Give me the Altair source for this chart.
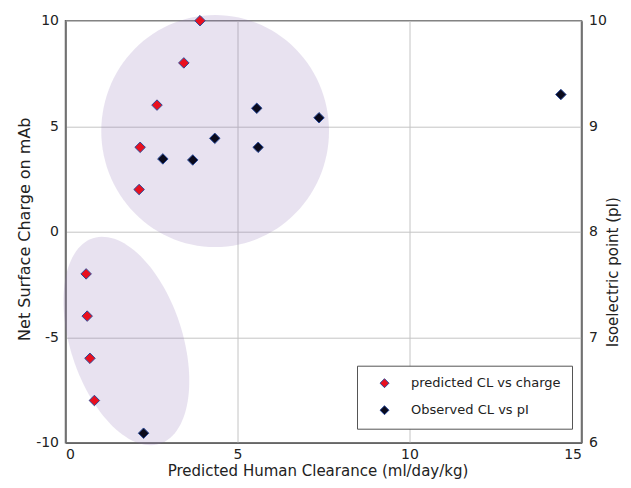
import altair as alt
import numpy as np
import pandas as pd

# ---- data ----
pred_cl = [3.91, 3.44, 2.66, 2.17, 2.14, 0.60, 0.63, 0.71, 0.84]
pred_charge = [10, 8, 6, 4, 2, -2, -4, -6, -8]

obs_cl = [5.56, 7.37, 4.34, 5.60, 2.83, 3.70, 14.40, 2.27]
obs_pi = [9.17, 9.08, 8.885, 8.80, 8.69, 8.68, 9.30, 6.09]

series_names = ["predicted CL vs charge", "Observed CL vs pI"]
series_colors = ["#e8101f", "#0a0a1c"]

# ellipse groupings (centre and two conjugate semi-axis vectors, data units)
ell_names = ["upper", "lower"]
ell_centre = [(4.35, 4.77), (1.77, -5.18)]
ell_vec_a = [(0.0, 5.5), (0.97, -4.87)]
ell_vec_b = [(3.31, 0.0), (1.55, 0.82)]

x_ticks = [0, 5, 10, 15]
y_ticks = [-10, -5, 0, 5, 10]
pi_ticks = [6, 7, 8, 9, 10]

# ---- tables ----
pred_df = pd.DataFrame({"cl": pred_cl, "v": pred_charge, "series": series_names[0]})
obs_df = pd.DataFrame({"cl": obs_cl, "v": obs_pi, "series": series_names[1]})

rows = []
t = np.linspace(0, 2 * np.pi, 121)
for name, c, a, b in zip(ell_names, ell_centre, ell_vec_a, ell_vec_b):
    for i, tt in enumerate(t):
        rows.append({
            "ell": name,
            "i": i,
            "cl": c[0] + np.cos(tt) * a[0] + np.sin(tt) * b[0],
            "v": c[1] + np.cos(tt) * a[1] + np.sin(tt) * b[1],
        })
ell_df = pd.DataFrame(rows)

FONT = "DejaVu Sans"
TXT = "#222222"
GRID = "#c4c4c4"
FRAME = "#666666"

xscale = alt.Scale(domain=[0, 15], nice=False, zero=False)
yscale = alt.Scale(domain=[-10, 10], nice=False, zero=False)
piscale = alt.Scale(domain=[6, 10], nice=False, zero=False)

color = alt.Color(
    "series:N",
    scale=alt.Scale(domain=series_names, range=series_colors),
    legend=alt.Legend(
        title=None,
        orient="none",
        legendX=291.5,
        legendY=345,
        strokeColor="#555555",
        fillColor="white",
        padding=11,
        symbolOffset=10,
        symbolType="diamond",
        symbolSize=80,
        symbolStrokeColor="#2a4a9a",
        symbolStrokeWidth=1,
        labelFont=FONT,
        labelFontSize=13,
        labelColor=TXT,
        labelOffset=20,
        rowPadding=13,
    ),
)

x_enc = alt.X(
    "cl:Q",
    scale=xscale,
    axis=alt.Axis(
        values=x_ticks,
        title="Predicted Human Clearance (ml/day/kg)",
        titleFontSize=15,
        titleY=33,
        titleX=252,
        titleAlign="center",
        titleBaseline="alphabetic",
        labelPadding=5,
        grid=True,
    ),
)

y_enc = alt.Y(
    "v:Q",
    scale=yscale,
    axis=alt.Axis(
        values=y_ticks,
        orient="left",
        labelExpr="'' + datum.value",
        title="Net Surface Charge on mAb",
        titleAngle=270,
        titleX=-36,
        titleY=208,
        titleBaseline="alphabetic",
        labelPadding=7,
        grid=True,
    ),
)

ellipses = alt.Chart(ell_df).mark_line(
    fill="#8c6fb5", fillOpacity=0.2, strokeOpacity=0, strokeWidth=0
).encode(
    x=x_enc,
    y=y_enc,
    detail="ell:N",
    order="i:Q",
)

pred_pts = alt.Chart(pred_df).mark_point(
    shape="diamond", filled=True, size=110, stroke="#2a4a9a", strokeWidth=1, opacity=1
).encode(
    x=x_enc,
    y=y_enc,
    color=color,
)

obs_pts = alt.Chart(obs_df).mark_point(
    shape="diamond", filled=True, size=110, stroke="#2a4a9a", strokeWidth=1, opacity=1
).encode(
    x=x_enc,
    y=alt.Y(
        "v:Q",
        scale=piscale,
        axis=alt.Axis(
            values=pi_ticks,
            orient="right",
            title="Isoelectric point (pI)",
            titleFontSize=15,
            titleAngle=270,
            titleX=36,
            titleY=251,
            titleBaseline="alphabetic",
            labelPadding=7,
            grid=False,
        ),
    ),
    color=color,
)

left = alt.layer(ellipses, pred_pts)
chart = (
    alt.layer(left, obs_pts)
    .resolve_scale(y="independent")
    .properties(
        width=516,
        height=422,
        padding={"left": 57.5, "top": 12.7, "right": 41.5, "bottom": 37.3},
        autosize=alt.AutoSizeParams(type="none"),
        background="white",
    )
    .configure_view(stroke=FRAME, strokeWidth=1.5)
    .configure_axis(
        labelFont=FONT,
        labelFontSize=14,
        labelColor=TXT,
        titleFont=FONT,
        titleFontSize=16,
        titleFontWeight="normal",
        titleColor=TXT,
        domainColor=FRAME,
        domainWidth=1.5,
        ticks=False,
        gridColor=GRID,
        gridWidth=1,
    )
)

chart.save("out.html", embed_options={"renderer": "svg", "actions": False})
